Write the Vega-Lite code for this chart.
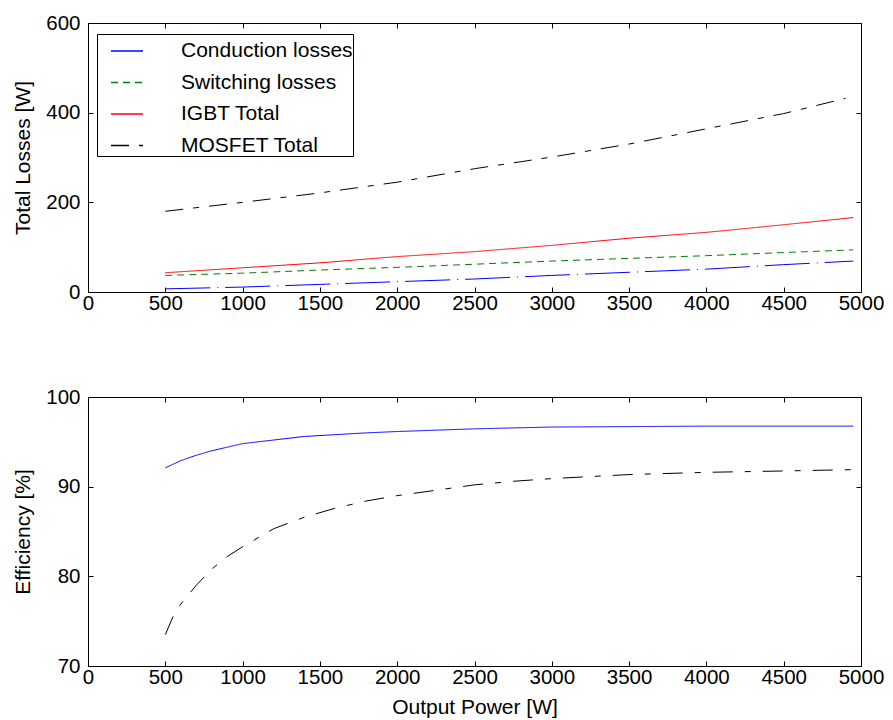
{
  "$schema": "https://vega.github.io/schema/vega-lite/v6.json",
  "background": "white",
  "padding": {"left": 12, "top": 12, "right": 5, "bottom": 5},
  "spacing": 72,
  "config": {
    "font": "Liberation Sans",
    "view": {"stroke": "black", "strokeWidth": 1},
    "axis": {
      "grid": false,
      "domain": false,
      "tickColor": "black",
      "tickSize": -5,
      "labelPadding": 13,
      "labelFontSize": 20.5,
      "labelColor": "black",
      "labelFont": "Liberation Sans",
      "titleFont": "Liberation Sans",
      "titleFontSize": 21,
      "titleFontWeight": "normal",
      "titleColor": "black",
      "titlePadding": 12,
      "labelFlush": false,
      "format": "d"
    },
    "axisX": {"labelPadding": 6},
    "legend": {
      "labelFont": "Liberation Sans",
      "labelFontSize": 21,
      "labelColor": "black",
      "labelLimit": 400
    }
  },
  "datasets": {
    "losses": [
      {"P": 500, "series": "Conduction losses", "v": 7},
      {"P": 1000, "series": "Conduction losses", "v": 11},
      {"P": 1500, "series": "Conduction losses", "v": 17},
      {"P": 2000, "series": "Conduction losses", "v": 23},
      {"P": 2500, "series": "Conduction losses", "v": 29},
      {"P": 3000, "series": "Conduction losses", "v": 37},
      {"P": 3500, "series": "Conduction losses", "v": 44},
      {"P": 4000, "series": "Conduction losses", "v": 51},
      {"P": 4500, "series": "Conduction losses", "v": 61},
      {"P": 4950, "series": "Conduction losses", "v": 69},
      {"P": 500, "series": "Switching losses", "v": 37},
      {"P": 1000, "series": "Switching losses", "v": 42},
      {"P": 1500, "series": "Switching losses", "v": 49},
      {"P": 2000, "series": "Switching losses", "v": 55},
      {"P": 2500, "series": "Switching losses", "v": 62},
      {"P": 3000, "series": "Switching losses", "v": 69},
      {"P": 3500, "series": "Switching losses", "v": 75},
      {"P": 4000, "series": "Switching losses", "v": 81},
      {"P": 4500, "series": "Switching losses", "v": 88},
      {"P": 4950, "series": "Switching losses", "v": 94},
      {"P": 500, "series": "IGBT Total", "v": 43},
      {"P": 1000, "series": "IGBT Total", "v": 54},
      {"P": 1500, "series": "IGBT Total", "v": 65},
      {"P": 2000, "series": "IGBT Total", "v": 79},
      {"P": 2500, "series": "IGBT Total", "v": 90},
      {"P": 3000, "series": "IGBT Total", "v": 104},
      {"P": 3500, "series": "IGBT Total", "v": 120},
      {"P": 4000, "series": "IGBT Total", "v": 133},
      {"P": 4500, "series": "IGBT Total", "v": 150},
      {"P": 4950, "series": "IGBT Total", "v": 166},
      {"P": 500, "series": "MOSFET Total", "v": 180},
      {"P": 1000, "series": "MOSFET Total", "v": 200},
      {"P": 1500, "series": "MOSFET Total", "v": 221},
      {"P": 2000, "series": "MOSFET Total", "v": 245},
      {"P": 2500, "series": "MOSFET Total", "v": 275},
      {"P": 3000, "series": "MOSFET Total", "v": 301},
      {"P": 3500, "series": "MOSFET Total", "v": 330},
      {"P": 4000, "series": "MOSFET Total", "v": 364},
      {"P": 4500, "series": "MOSFET Total", "v": 398},
      {"P": 4900, "series": "MOSFET Total", "v": 432}
    ],
    "efficiency": [
      {"P": 500, "device": "IGBT", "eff": 92.1},
      {"P": 600, "device": "IGBT", "eff": 92.9},
      {"P": 700, "device": "IGBT", "eff": 93.5},
      {"P": 800, "device": "IGBT", "eff": 94.0},
      {"P": 900, "device": "IGBT", "eff": 94.4},
      {"P": 1000, "device": "IGBT", "eff": 94.8},
      {"P": 1200, "device": "IGBT", "eff": 95.2},
      {"P": 1400, "device": "IGBT", "eff": 95.6},
      {"P": 1600, "device": "IGBT", "eff": 95.8},
      {"P": 1800, "device": "IGBT", "eff": 96.0},
      {"P": 2000, "device": "IGBT", "eff": 96.15},
      {"P": 2500, "device": "IGBT", "eff": 96.45},
      {"P": 3000, "device": "IGBT", "eff": 96.65},
      {"P": 3500, "device": "IGBT", "eff": 96.7},
      {"P": 4000, "device": "IGBT", "eff": 96.75},
      {"P": 4500, "device": "IGBT", "eff": 96.75},
      {"P": 4950, "device": "IGBT", "eff": 96.75},
      {"P": 500, "device": "MOSFET", "eff": 73.5},
      {"P": 550, "device": "MOSFET", "eff": 75.5},
      {"P": 600, "device": "MOSFET", "eff": 76.9},
      {"P": 700, "device": "MOSFET", "eff": 79.0},
      {"P": 800, "device": "MOSFET", "eff": 80.8},
      {"P": 900, "device": "MOSFET", "eff": 82.2},
      {"P": 1000, "device": "MOSFET", "eff": 83.3},
      {"P": 1200, "device": "MOSFET", "eff": 85.3},
      {"P": 1400, "device": "MOSFET", "eff": 86.6},
      {"P": 1600, "device": "MOSFET", "eff": 87.6},
      {"P": 1800, "device": "MOSFET", "eff": 88.4},
      {"P": 2000, "device": "MOSFET", "eff": 89.0},
      {"P": 2250, "device": "MOSFET", "eff": 89.6},
      {"P": 2500, "device": "MOSFET", "eff": 90.2},
      {"P": 2750, "device": "MOSFET", "eff": 90.6},
      {"P": 3000, "device": "MOSFET", "eff": 90.9},
      {"P": 3500, "device": "MOSFET", "eff": 91.35},
      {"P": 4000, "device": "MOSFET", "eff": 91.6},
      {"P": 4500, "device": "MOSFET", "eff": 91.75},
      {"P": 4950, "device": "MOSFET", "eff": 91.9}
    ]
  },
  "resolve": {"scale": {"color": "independent", "strokeDash": "independent"}},
  "vconcat": [
    {
      "width": 773,
      "height": 269,
      "data": {"name": "losses"},
      "resolve": {"axis": {"x": "independent", "y": "independent"}},
      "layer": [
        {
          "mark": {"type": "line", "strokeWidth": 1},
          "encoding": {
            "x": {"field": "P", "type": "quantitative",
                  "scale": {"domain": [0, 5000], "nice": false},
                  "axis": {"orient": "bottom", "title": null, "values": [0, 500, 1000, 1500, 2000, 2500, 3000, 3500, 4000, 4500, 5000]}},
            "y": {"field": "v", "type": "quantitative",
                  "scale": {"domain": [0, 600], "nice": false},
                  "axis": {"orient": "left", "title": "Total Losses [W]", "values": [0, 200, 400, 600]}},
            "color": {"field": "series", "type": "nominal",
                      "scale": {"domain": ["Conduction losses", "Switching losses", "IGBT Total", "MOSFET Total"],
                                "range": ["#0000ff", "#008000", "#ff0000", "#000000"]},
                      "legend": {"title": null, "orient": "none", "legendX": 9, "legendY": 11,
                                 "symbolType": "stroke", "symbolSize": 1024, "symbolStrokeWidth": 1.5,
                                 "symbolOffset": 13,
                                 "strokeColor": "black", "fillColor": "white", "padding": 0, "rowPadding": 4.5,
                                 "labelOffset": 37}},
            "strokeDash": {"field": "series", "type": "nominal",
                      "scale": {"domain": ["Conduction losses", "Switching losses", "IGBT Total", "MOSFET Total"],
                                "range": [[45, 7, 1, 7], [7, 5], [1, 0], [18, 10, 6, 10]]},
                      "legend": {"title": null, "orient": "none", "legendX": 9, "legendY": 11,
                                 "symbolType": "stroke", "symbolSize": 1024, "symbolStrokeWidth": 1.5,
                                 "symbolOffset": 13,
                                 "strokeColor": "black", "fillColor": "white", "padding": 0, "rowPadding": 4.5,
                                 "labelOffset": 37}}
          }
        },
        {
          "mark": {"type": "line", "opacity": 0},
          "encoding": {
            "x": {"field": "P", "type": "quantitative",
                  "axis": {"orient": "top", "title": null, "labels": false, "values": [0, 500, 1000, 1500, 2000, 2500, 3000, 3500, 4000, 4500, 5000]}},
            "y": {"field": "v", "type": "quantitative",
                  "axis": {"orient": "right", "title": null, "labels": false, "values": [0, 200, 400, 600]}},
            "detail": {"field": "series"}
          }
        }
      ]
    },
    {
      "width": 773,
      "height": 269,
      "data": {"name": "efficiency"},
      "resolve": {"axis": {"x": "independent", "y": "independent"}},
      "layer": [
        {
          "mark": {"type": "line", "strokeWidth": 1},
          "encoding": {
            "x": {"field": "P", "type": "quantitative",
                  "scale": {"domain": [0, 5000], "nice": false},
                  "axis": {"orient": "bottom", "title": "Output Power [W]", "titlePadding": 9, "values": [0, 500, 1000, 1500, 2000, 2500, 3000, 3500, 4000, 4500, 5000]}},
            "y": {"field": "eff", "type": "quantitative",
                  "scale": {"domain": [70, 100], "nice": false, "zero": false},
                  "axis": {"orient": "left", "title": "Efficiency [%]", "values": [70, 80, 90, 100]}},
            "color": {"field": "device", "type": "nominal",
                      "scale": {"domain": ["IGBT", "MOSFET"], "range": ["#0000ff", "#000000"]},
                      "legend": null},
            "strokeDash": {"field": "device", "type": "nominal",
                      "scale": {"domain": ["IGBT", "MOSFET"], "range": [[1, 0], [20, 12, 6, 12]]},
                      "legend": null}
          }
        },
        {
          "mark": {"type": "line", "opacity": 0},
          "encoding": {
            "x": {"field": "P", "type": "quantitative",
                  "axis": {"orient": "top", "title": null, "labels": false, "values": [0, 500, 1000, 1500, 2000, 2500, 3000, 3500, 4000, 4500, 5000]}},
            "y": {"field": "eff", "type": "quantitative",
                  "axis": {"orient": "right", "title": null, "labels": false, "values": [70, 80, 90, 100]}},
            "detail": {"field": "device"}
          }
        }
      ]
    }
  ]
}
